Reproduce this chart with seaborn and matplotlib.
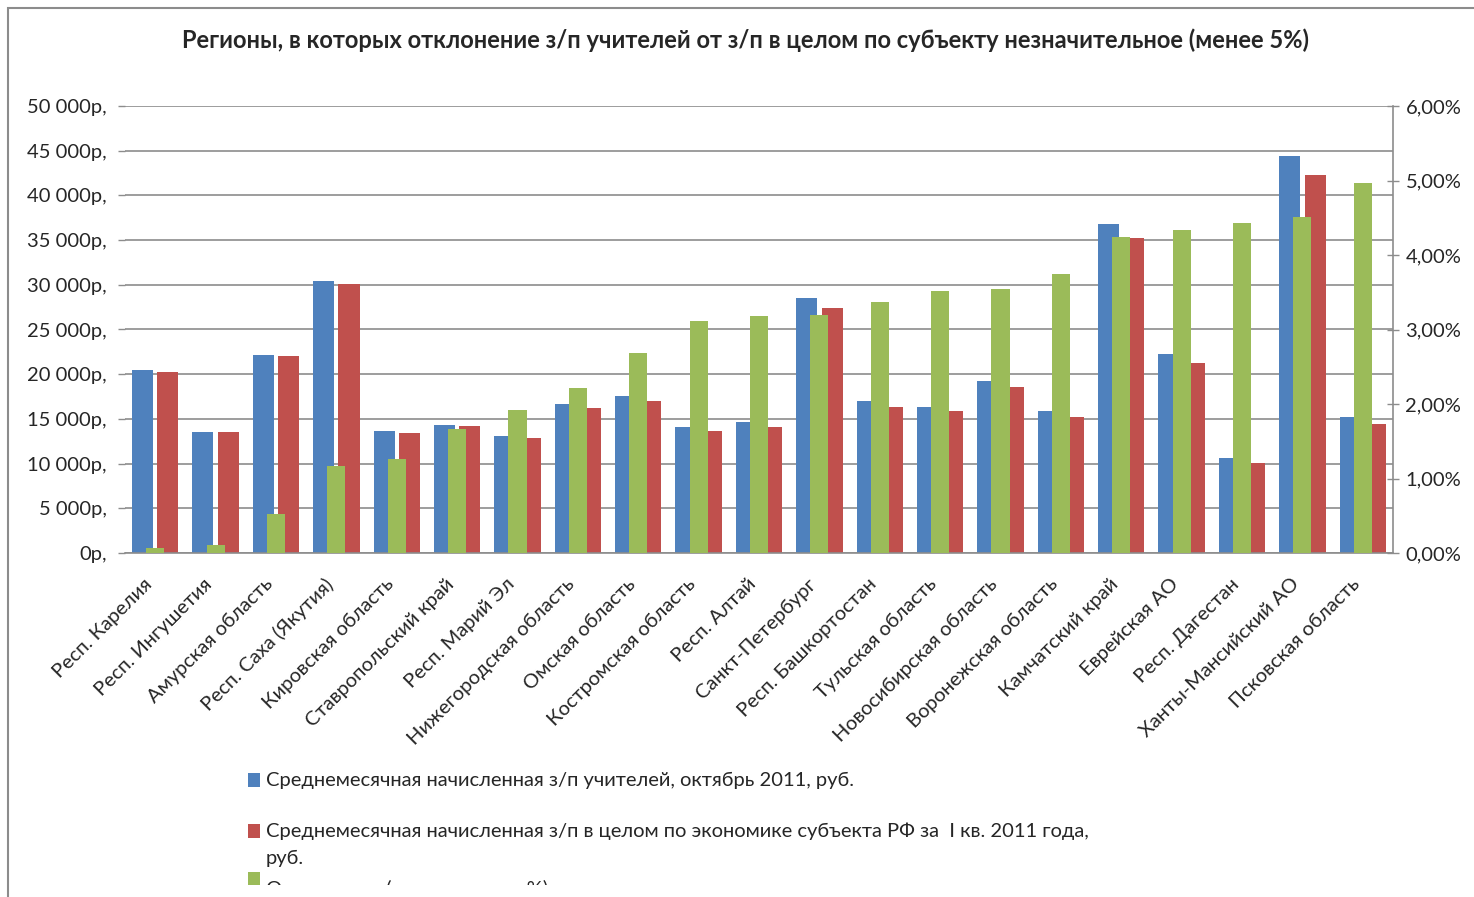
import numpy as np
import pandas as pd
import matplotlib
matplotlib.use("Agg")
import matplotlib.pyplot as plt
import seaborn as sns
from matplotlib.patches import Rectangle
from matplotlib.transforms import Bbox, TransformedBbox, ScaledTranslation
from matplotlib.ticker import FuncFormatter

# --- data ---
regions = [
    "Респ. Карелия", "Респ. Ингушетия", "Амурская область", "Респ. Саха (Якутия)",
    "Кировская область", "Ставропольский край", "Респ. Марий Эл", "Нижегородская область",
    "Омская область", "Костромская область", "Респ. Алтай", "Санкт-Петербург",
    "Респ. Башкортостан", "Тульская область", "Новосибирская область", "Воронежская область",
    "Камчатский край", "Еврейская АО", "Респ. Дагестан", "Ханты-Мансийский АО",
    "Псковская область",
]
teacher_pay = [20500, 13500, 22100, 30400, 13600, 14300, 13100, 16700, 17600, 14100, 14650,
               28500, 17000, 16300, 19200, 15900, 36800, 22300, 10600, 44400, 15200]
region_pay = [20300, 13500, 22000, 30100, 13400, 14200, 12900, 16200, 17000, 13600, 14100,
              27400, 16300, 15900, 18600, 15200, 35200, 21250, 10100, 42300, 14400]
deviation_pct = [0.07, 0.11, 0.52, 1.17, 1.26, 1.66, 1.92, 2.21, 2.68, 3.11, 3.18,
                 3.19, 3.37, 3.52, 3.54, 3.74, 4.24, 4.34, 4.43, 4.51, 4.97]

series_names = [
    "Среднемесячная начисленная з/п учителей, октябрь 2011, руб.",
    "Среднемесячная начисленная з/п в целом по экономике субъекта РФ за  I кв. 2011 года,\nруб.",
    "Отклонение (правая шкала, %)",
]
colors = ["#4F81BD", "#C0504D", "#9BBB59"]

df = pd.DataFrame({"region": regions, "teacher": teacher_pay, "total": region_pay})
long_df = df.melt(id_vars="region", var_name="series", value_name="pay")

sns.set_style("white")
plt.rcParams["font.family"] = ["Lato", "DejaVu Sans"]
FS = 14.5

fig = plt.figure(figsize=(14.74, 8.97), dpi=100)
W, H = 1474, 897
ax = fig.add_axes([125 / W, 1 - 553 / H, (1393 - 125) / W, (553 - 106) / H])

sns.barplot(data=long_df, x="region", y="pay", hue="series", order=regions,
            palette=colors[:2], width=0.84, gap=0.17, saturation=1, linewidth=0,
            legend=False, ax=ax)
ax.set_ylim(0, 50000)
ax.set_yticks(np.arange(0, 50001, 5000))
ax.yaxis.set_major_formatter(FuncFormatter(lambda v, p: f"{int(v):,}".replace(",", " ") + "р,"))
ax.yaxis.grid(True, color="#8c8c8c", linewidth=1.2)
ax.set_axisbelow(True)
ax.set_xlabel("")
ax.set_ylabel("")

ax2 = ax.twinx()
sns.barplot(x=regions, y=deviation_pct, color=colors[2], width=0.30, saturation=1,
            linewidth=0, ax=ax2)
ax2.set_ylim(0, 6)
ax2.set_yticks(np.arange(0, 6.01, 1))
ax2.yaxis.set_major_formatter(FuncFormatter(lambda v, p: f"{v:.2f}".replace(".", ",") + "%"))
ax2.set_ylabel("")
ax2.xaxis.set_visible(False)
ax.set_xlim(-0.5, len(regions) - 0.5)

for a in (ax, ax2):
    for s in a.spines.values():
        s.set_visible(False)
ax.spines["bottom"].set_visible(True)
ax.spines["bottom"].set_color("#8c8c8c")
ax.spines["bottom"].set_linewidth(1.2)
ax2.spines["right"].set_visible(True)
ax2.spines["right"].set_color("#8c8c8c")
ax2.spines["right"].set_linewidth(1.2)

ax.tick_params(axis="y", which="both", left=True, length=5, width=1, color="#8c8c8c",
               labelsize=FS, pad=8)
ax.tick_params(axis="x", bottom=False, length=0, pad=16)
ax2.tick_params(axis="y", right=True, direction="inout", length=8, width=1, color="#8c8c8c",
                labelsize=FS, pad=5)

ax.set_xticks(range(len(regions)))
ax.set_xticklabels(regions, rotation=45, ha="right", rotation_mode="anchor", fontsize=FS)
shift = ScaledTranslation(-12 / 100, 0, fig.dpi_scale_trans)
for lab in ax.get_xticklabels():
    lab.set_transform(lab.get_transform() + shift)

fig.text(746 / W, 1 - 40 / H,
         "Регионы, в которых отклонение з/п учителей от з/п в целом по субъекту незначительное (менее 5%)",
         ha="center", va="center", fontsize=17, fontweight="bold")

# outer chart frame (only left and top edges visible)
fig.add_artist(Rectangle((8 / W, -0.1), 1.2, 1 - 8 / H + 0.1, transform=fig.transFigure,
                         fill=False, edgecolor="#8c8c8c", linewidth=1.5))

# legend, drawn as in the original clipped legend box
clip = TransformedBbox(Bbox([[0, 1 - 885 / H], [1, 1]]), fig.transFigure)
legend_rows = [(780, 780, 0), (831, 831, 1), (879, 889, 2)]
for sq_y, txt_y, i in legend_rows:
    sq = Rectangle((248 / W, 1 - (sq_y + 7) / H), 12 / W, 14 / H, transform=fig.transFigure,
                   facecolor=colors[i], edgecolor="none")
    sq.set_clip_box(clip)
    fig.add_artist(sq)
    for k, line in enumerate(series_names[i].split("\n")):
        t = fig.text(266 / W, 1 - (txt_y + 27 * k) / H, line, ha="left", va="center", fontsize=FS)
        t.set_clip_box(clip)
        t.set_clip_on(True)

fig.savefig("out.png", dpi=100, facecolor="white")
